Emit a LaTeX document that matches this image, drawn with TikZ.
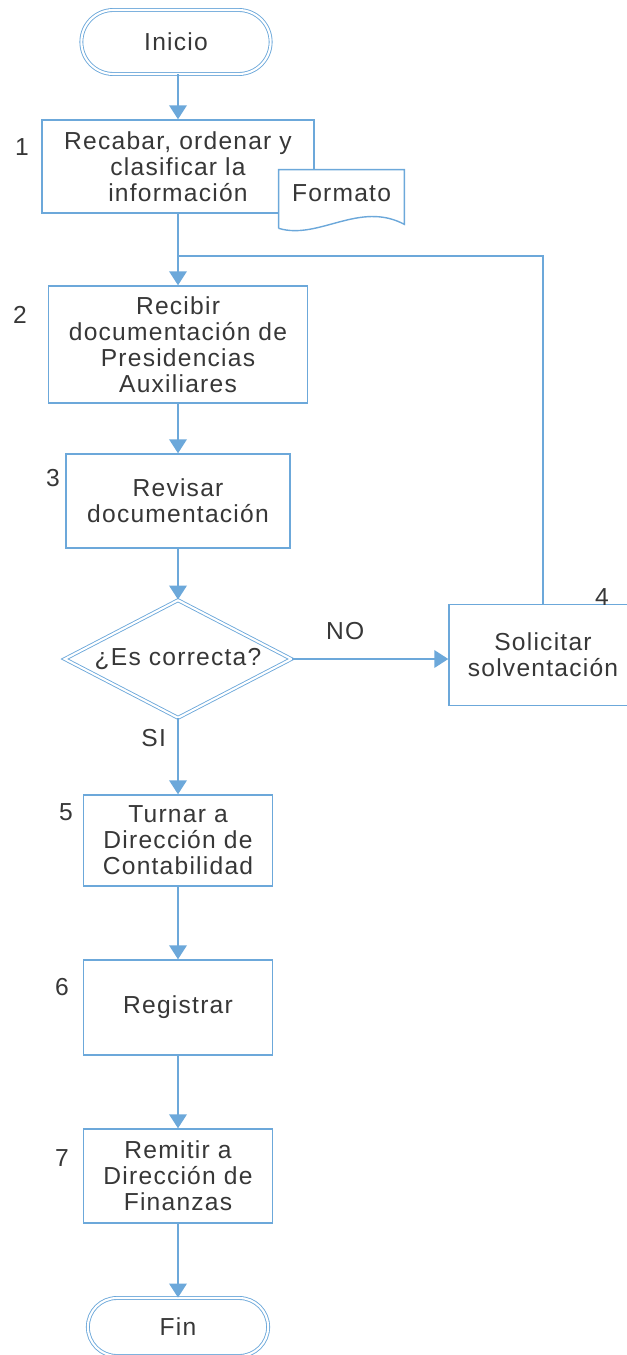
\documentclass[tikz,border=0pt]{standalone}
\usepackage{fontspec}
\setmainfont{Liberation Sans}[LetterSpace=5]
\usetikzlibrary{positioning,shapes.geometric,shapes.misc,arrows.meta,calc}
\definecolor{lineblue}{RGB}{108,168,218}
\definecolor{txtgray}{RGB}{55,55,55}

\begin{document}
\begin{tikzpicture}[x=0.02cm,y=-0.02cm,
  every node/.style={text=txtgray,font=\fontsize{14}{14.8}\selectfont},
  stepnode/.style={draw=lineblue,line width=0.8pt,fill=white,align=center,inner sep=2pt},
  termnode/.style={rounded rectangle,draw=lineblue,double=white,double distance=1.2pt,line width=0.5pt},
  decnode/.style={diamond,draw=lineblue,double=white,double distance=1.2pt,line width=0.5pt,inner sep=0pt,aspect=1.9},
  docnode/.style={fill=white,minimum width=2.5cm,minimum height=0.92cm,inner sep=0pt},
  line/.style={draw=lineblue,line width=1.1pt},
  flow/.style={line,-{Triangle[width=10pt,length=8pt]}}
]
\useasboundingbox (0,0) rectangle (626,1355);

\node[termnode,minimum width=4.02cm,minimum height=1.28cm] (inicio) at (176,42) {Inicio};
\node[stepnode,minimum width=5.44cm,minimum height=1.86cm] (s1) at (178,166.5) {Recabar, ordenar y\\clasificar la\\información};
\node[docnode] (fmt) at (341.5,193) {Formato};
\draw[draw=lineblue,line width=0.8pt] ($(fmt.south west)+(0,12)$) -- (fmt.north west) -- (fmt.north east)
  -- ($(fmt.south east)+(0,8)$) .. controls ($(fmt.south east)+(-45,-16)$) and ($(fmt.south west)+(40,24)$) .. ($(fmt.south west)+(0,12)$);
\node[stepnode,minimum width=5.18cm,minimum height=2.34cm] (s2) at (178,344.5) {Recibir\\documentación de\\Presidencias\\Auxiliares};
\node[stepnode,minimum width=4.48cm,minimum height=1.88cm] (s3) at (178,501) {Revisar\\documentación};
\node[decnode,minimum width=4.54cm,minimum height=2.36cm] (dec) at (178,659) {¿Es correcta?};
\node[stepnode,minimum width=3.76cm,minimum height=2.02cm] (s4) at (543,655) {Solicitar\\solventación};
\node[stepnode,minimum width=3.78cm,minimum height=1.82cm] (s5) at (178,840.5) {Turnar a\\Dirección de\\Contabilidad};
\node[stepnode,minimum width=3.78cm,minimum height=1.9cm] (s6) at (178,1007.5) {Registrar};
\node[stepnode,minimum width=3.78cm,minimum height=1.88cm] (s7) at (178,1176) {Remitir a\\Dirección de\\Finanzas};
\node[termnode,minimum width=3.84cm,minimum height=1.16cm] (fin) at (178,1327) {Fin};

% numeros de paso
\foreach \n/\nx/\ny in {1/22/147,2/20/315,3/53/478,4/602/597,5/66/812,6/62/987,7/62/1158}
  \node (num\n) at (\nx,\ny) {\n};

\coordinate (back) at (178,256);
\draw[flow] (inicio.south -| s1.north) -- (s1);
\draw[flow] (s1) -- (s2);
\draw[line] (s4) |- (back);
\draw[flow] (s2) -- (s3);
\draw[flow] (s3) -- (dec);
\draw[flow] (dec) -- node[pos=0.34,above=7pt] {NO} (dec -| s4.west);
\draw[flow] (dec) -- node[pos=0.26,left=3pt] {SI} (s5);
\draw[flow] (s5) -- (s6);
\draw[flow] (s6) -- (s7);
\draw[flow] (s7) -- (fin);
\end{tikzpicture}
\end{document}
